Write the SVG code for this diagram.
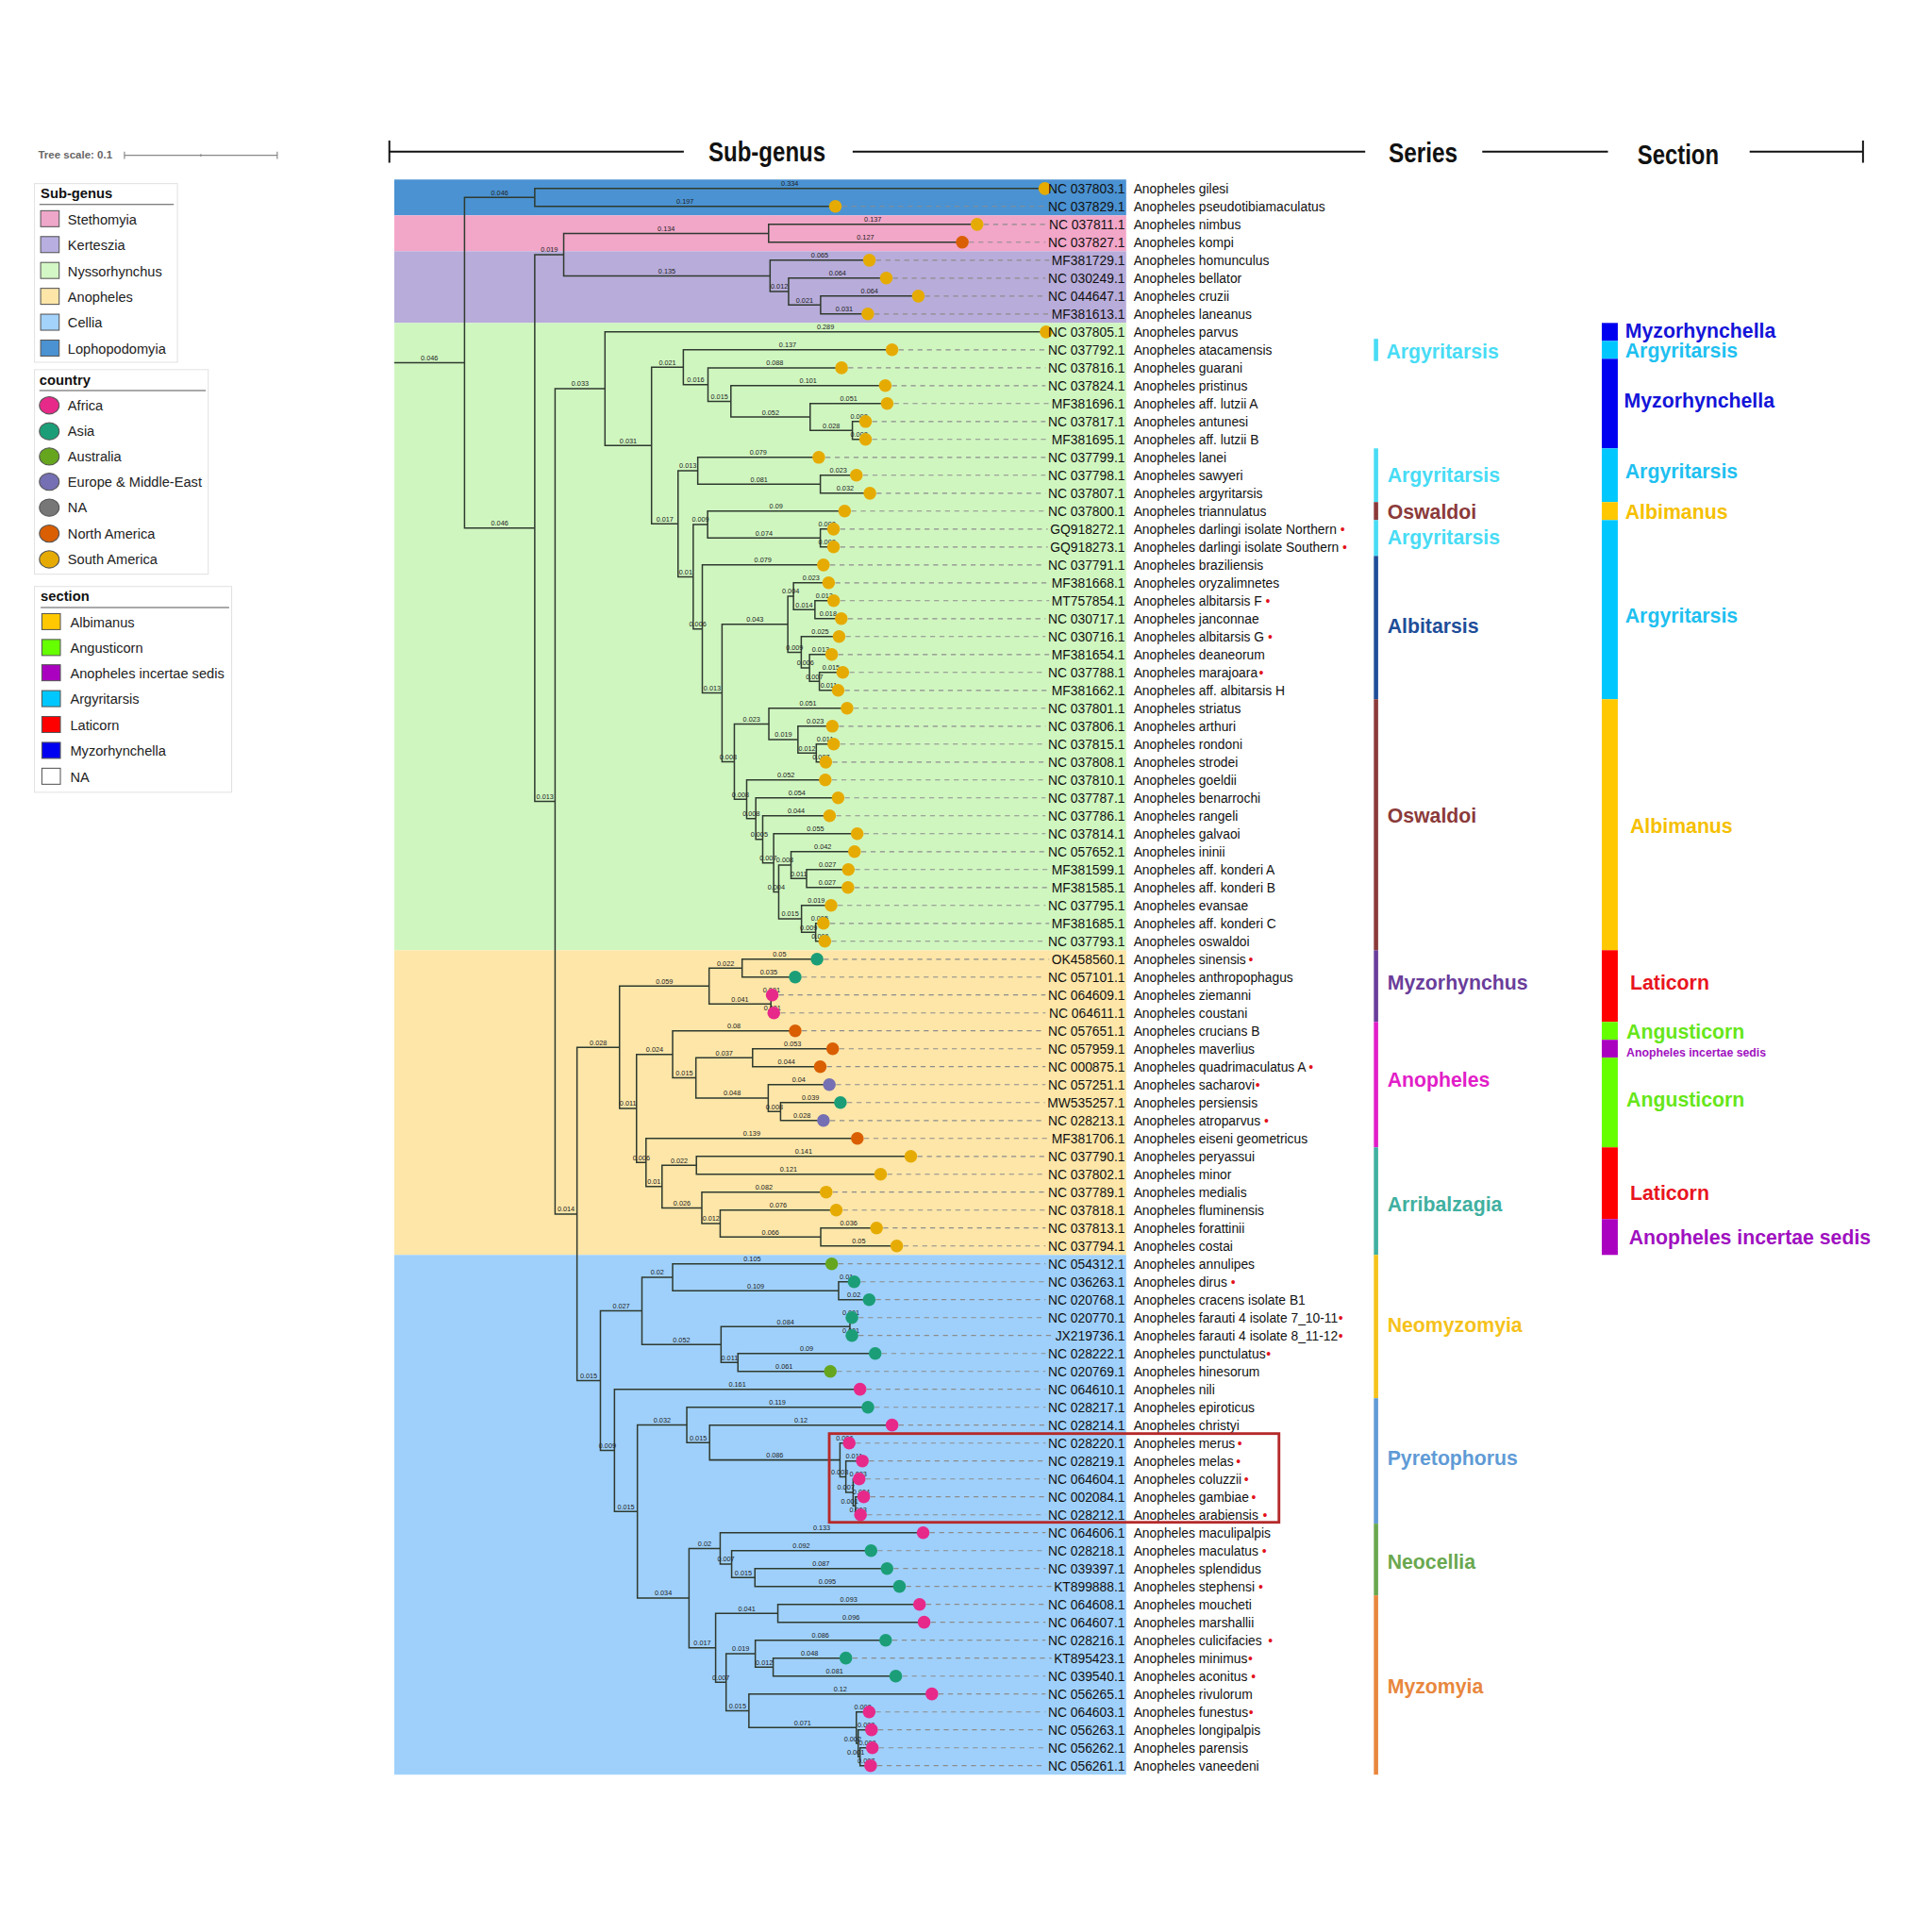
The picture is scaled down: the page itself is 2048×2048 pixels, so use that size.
<svg xmlns="http://www.w3.org/2000/svg" width="2048" height="2048" viewBox="0 0 2048 2048">
<style>
.br{fill:none;stroke:#2f3a2f;stroke-width:1.15}
.bl{font-family:"Liberation Sans Narrow","Liberation Sans",Arial,sans-serif;font-size:5.6px;fill:#222;text-anchor:middle}
.ld{fill:none;stroke:#8c8c8c;stroke-width:0.9;stroke-dasharray:4 3.6}
.acc{font-family:"Liberation Sans",Arial,sans-serif;font-size:10.6px;fill:#111;text-anchor:end}
.sp{font-family:"Liberation Sans",Arial,sans-serif;font-size:10.6px;fill:#111}
.rd{fill:#e3121b}
.c-sa{fill:#e6ab02}.c-na{fill:#d95f02}.c-af{fill:#e7298a}.c-as{fill:#1b9e77}.c-au{fill:#66a61e}.c-eu{fill:#7570b3}.c-nn{fill:#777}
.lg-box{fill:#fff;stroke:#e2e2e2;stroke-width:0.8}
.lg-t{font-family:"Liberation Sans",Arial,sans-serif;font-size:11.3px;font-weight:bold;fill:#111}
.lg{font-family:"Liberation Sans",Arial,sans-serif;font-size:11.2px;fill:#222}
.sw{stroke:#555;stroke-width:0.8}
.ser{font-family:"Liberation Sans",Arial,sans-serif;font-size:16.3px;font-weight:bold}
.hd{font-family:"Liberation Sans Narrow","Liberation Sans",Arial,sans-serif;font-size:22px;font-weight:bold;fill:#111;text-anchor:middle}
</style>
<rect width="2048" height="2048" fill="#fff"/>
<g transform="scale(1.306122)">

<!-- header rule -->
<g id="header" stroke="#111" stroke-width="1.5">
<path d="M316 123H555M692 123H1108M1203 123H1305M1420 123H1512M316 114V132M1512 114V132"/>
<g stroke="none">
<text class="hd" x="622.5" y="131" textLength="95" lengthAdjust="spacingAndGlyphs">Sub-genus</text>
<text class="hd" x="1155" y="132" textLength="56" lengthAdjust="spacingAndGlyphs">Series</text>
<text class="hd" x="1362" y="133" textLength="66" lengthAdjust="spacingAndGlyphs">Section</text>
</g>
</g>

<!-- tree scale -->
<g id="tree-scale">
<text x="31" y="129" font-family="Liberation Sans, Arial, sans-serif" font-size="8.8" font-weight="bold" fill="#666">Tree scale: 0.1</text>
<path d="M101 126H225M101 123V129M225 123V129M163 125V127" stroke="#888" stroke-width="0.9" fill="none"/>
</g>

<!-- legend: sub-genus -->
<g id="legend-subgenus">
<rect class="lg-box" x="28" y="149" width="116" height="145"/>
<text class="lg-t" x="33" y="161">Sub-genus</text>
<path d="M32 166H141" stroke="#555" stroke-width="0.8"/>
<rect class="sw" x="33" y="171" width="15" height="13" fill="#eea6c9"/><text class="lg" x="55" y="182">Stethomyia</text>
<rect class="sw" x="33" y="192" width="15" height="13" fill="#b8aee0"/><text class="lg" x="55" y="203">Kerteszia</text>
<rect class="sw" x="33" y="213" width="15" height="13" fill="#d3f7c5"/><text class="lg" x="55" y="224">Nyssorhynchus</text>
<rect class="sw" x="33" y="234" width="15" height="13" fill="#fde6a8"/><text class="lg" x="55" y="245">Anopheles</text>
<rect class="sw" x="33" y="255" width="15" height="13" fill="#a3d2fb"/><text class="lg" x="55" y="266">Cellia</text>
<rect class="sw" x="33" y="276" width="15" height="13" fill="#4a92d1"/><text class="lg" x="55" y="287">Lophopodomyia</text>
</g>

<!-- legend: country -->
<g id="legend-country">
<rect class="lg-box" x="28" y="300" width="141" height="166"/>
<text class="lg-t" x="32" y="312">country</text>
<path d="M32 317H167" stroke="#555" stroke-width="0.8"/>
<ellipse class="sw" cx="40" cy="329" rx="8" ry="7" fill="#e7298a"/><text class="lg" x="55" y="333">Africa</text>
<ellipse class="sw" cx="40" cy="350" rx="8" ry="7" fill="#1b9e77"/><text class="lg" x="55" y="354">Asia</text>
<ellipse class="sw" cx="40" cy="370.5" rx="8" ry="7" fill="#66a61e"/><text class="lg" x="55" y="374.5">Australia</text>
<ellipse class="sw" cx="40" cy="391" rx="8" ry="7" fill="#7570b3"/><text class="lg" x="55" y="395">Europe &amp; Middle-East</text>
<ellipse class="sw" cx="40" cy="412" rx="8" ry="7" fill="#777777"/><text class="lg" x="55" y="416">NA</text>
<ellipse class="sw" cx="40" cy="433" rx="8" ry="7" fill="#d95f02"/><text class="lg" x="55" y="437">North America</text>
<ellipse class="sw" cx="40" cy="454" rx="8" ry="7" fill="#e6ab02"/><text class="lg" x="55" y="458">South America</text>
</g>

<!-- legend: section -->
<g id="legend-section">
<rect class="lg-box" x="28" y="476" width="160" height="167"/>
<text class="lg-t" x="33" y="488">section</text>
<path d="M33 493H186" stroke="#555" stroke-width="0.8"/>
<rect class="sw" x="34" y="498" width="15" height="13" fill="#ffc800"/><text class="lg" x="57" y="509">Albimanus</text>
<rect class="sw" x="34" y="519" width="15" height="13" fill="#66ff00"/><text class="lg" x="57" y="530">Angusticorn</text>
<rect class="sw" x="34" y="539.5" width="15" height="13" fill="#aa00c0"/><text class="lg" x="57" y="550.5">Anopheles incertae sedis</text>
<rect class="sw" x="34" y="560.5" width="15" height="13" fill="#00c8ff"/><text class="lg" x="57" y="571.5">Argyritarsis</text>
<rect class="sw" x="34" y="581.5" width="15" height="13" fill="#ff0000"/><text class="lg" x="57" y="592.5">Laticorn</text>
<rect class="sw" x="34" y="602.5" width="15" height="13" fill="#0000f0"/><text class="lg" x="57" y="613.5">Myzorhynchella</text>
<rect class="sw" x="34" y="623.5" width="15" height="13" fill="#ffffff"/><text class="lg" x="57" y="634.5">NA</text>
</g>

<!-- sub-genus background bands -->
<g id="subgenus-bands">
<rect x="320" y="145.7" width="594" height="29.1" fill="#4a92d2"/>
<rect x="320" y="174.8" width="594" height="29.1" fill="#f2a6c8"/>
<rect x="320" y="203.9" width="594" height="58.2" fill="#b8acda"/>
<rect x="320" y="262.1" width="594" height="509.1" fill="#d0f6c0"/>
<rect x="320" y="771.2" width="594" height="247.3" fill="#fde6a8"/>
<rect x="320" y="1018.5" width="594" height="421.8" fill="#9fd0fb"/>
</g>

<!-- connectors: tree branches -->
<g id="branches" class="br">
<path d="M320 294.4H377"/>
<path d="M434 160.3H377V428.6H434"/>
<path d="M848 153H434V167.5H678"/>
<path d="M457.5 206.7H434V650.4H450.5"/>
<path d="M623.8 189.4H457.5V223.9H625"/>
<path d="M793 182.1H623.8V196.6H781"/>
<path d="M705.6 211.2H625V236.6H640"/>
<path d="M719.3 225.7H640V247.5H666"/>
<path d="M745.3 240.3H666V254.8H704.3"/>
<path d="M491 315.5H450.5V985.3H468.3"/>
<path d="M849 269.4H491V361.6H528.8"/>
<path d="M554.6 298.1H528.8V425.1H550.3"/>
<path d="M724 283.9H554.6V312.1H574.6"/>
<path d="M683 298.5H574.6V325.8H593.2"/>
<path d="M718.5 313H593.2V338.5H657.5"/>
<path d="M720 327.5H657.5V349.4H691.8"/>
<path d="M702.5 342.1H691.8V356.6H702.5"/>
<path d="M566.3 382.1H550.3V468.1H562.6"/>
<path d="M664.5 371.2H566.3V393H665.8"/>
<path d="M695 385.7H665.8V400.3H706"/>
<path d="M574.3 425.7H562.6V510.5H570"/>
<path d="M685.5 414.8H574.3V436.6H665.8"/>
<path d="M676.5 429.4H665.8V443.9H676.5"/>
<path d="M668.3 458.5H570V562.4H586"/>
<path d="M639.4 506.6H586V618.2H596"/>
<path d="M644 483.9H639.4V529.4H650.3"/>
<path d="M672.5 473H644V494.8H661.4"/>
<path d="M676.6 487.5H661.4V502.1H682.8"/>
<path d="M681 516.6H650.3V542.1H657"/>
<path d="M675 531.2H657V553H665"/>
<path d="M684 545.7H665V560.3H680.2"/>
<path d="M624 587.6H596V648.7H606"/>
<path d="M687.5 574.8H624V600.3H647.6"/>
<path d="M675.5 589.4H647.6V611.2H662.5"/>
<path d="M676.6 603.9H662.5V618.5H670.2"/>
<path d="M669.8 633H606V664.4H613.4"/>
<path d="M680.2 647.5H613.4V681.2H619"/>
<path d="M673.3 662.1H619V700.3H627.9"/>
<path d="M695.7 676.6H627.9V723.9H632"/>
<path d="M642 702.1H632V745.7H650.5"/>
<path d="M693.5 691.2H642V713H654.6"/>
<path d="M688.5 705.7H654.6V720.3H688.2"/>
<path d="M674.5 734.8H650.5V756.6H662"/>
<path d="M668.3 749.4H662V763.9H669.4"/>
<path d="M502.8 850H468.3V1120.5H487.3"/>
<path d="M575.5 800.3H502.8V899.6H516.6"/>
<path d="M602.3 785.8H575.5V814.8H625.7"/>
<path d="M663.1 778.5H602.3V793H645.4"/>
<path d="M626.7 807.5H625.7V822.1H628"/>
<path d="M545.9 855.7H516.6V943.5H524.3"/>
<path d="M645.4 836.6H545.9V874.8H564.8"/>
<path d="M610.8 858.5H564.8V891.2H623.5"/>
<path d="M675.8 851.2H610.8V865.7H665.7"/>
<path d="M673.1 880.3H623.5V902.1H633.5"/>
<path d="M682.1 894.8H633.5V909.4H668.3"/>
<path d="M695.8 923.9H524.3V963H537.3"/>
<path d="M565.2 945.8H537.3V980.3H569.6"/>
<path d="M739.2 938.5H565.2V953H714.7"/>
<path d="M670.5 967.5H569.6V993H584.5"/>
<path d="M678.7 982.1H584.5V1003.9H666.1"/>
<path d="M711.4 996.6H666.1V1011.2H727.8"/>
<path d="M521 1063.9H487.3V1177.1H498.7"/>
<path d="M545.9 1036.6H521V1091.2H585.2"/>
<path d="M675 1025.7H545.9V1047.6H680.6"/>
<path d="M693.2 1040.3H680.6V1054.8H705.4"/>
<path d="M689.8 1076.7H585.2V1105.8H598.9"/>
<path d="M691.4 1069.4H689.8V1083.9H691.4"/>
<path d="M710.3 1098.5H598.9V1113H673.9"/>
<path d="M698 1127.5H498.7V1226.7H517.3"/>
<path d="M557.4 1156.4H517.3V1297H559.2"/>
<path d="M704.4 1142.1H557.4V1170.8H575.9"/>
<path d="M724 1156.6H575.9V1184.9H681.7"/>
<path d="M689.2 1171.2H681.7V1198.5H686.5"/>
<path d="M699.9 1185.7H686.5V1211.2H692.4"/>
<path d="M697.3 1200.3H692.4V1222.1H694.3"/>
<path d="M701 1214.8H694.3V1229.4H698.4"/>
<path d="M584.5 1256.7H559.2V1337.3H580.8"/>
<path d="M749.2 1243.9H584.5V1269.4H593.8"/>
<path d="M706.9 1258.5H593.8V1280.3H612.7"/>
<path d="M719.9 1273H612.7V1287.5H730"/>
<path d="M631.3 1309.4H580.8V1365.3H589.3"/>
<path d="M746.3 1302.1H631.3V1316.6H750"/>
<path d="M613 1342.1H589.3V1388.5H607.8"/>
<path d="M718.8 1331.2H613V1353H627.5"/>
<path d="M686.5 1345.7H627.5V1360.3H727"/>
<path d="M756.3 1374.8H607.8V1402.1H695"/>
<path d="M705.4 1389.4H695V1414.8H696.5"/>
<path d="M707.3 1403.9H696.5V1425.8H698"/>
<path d="M708 1418.5H698V1433H706.6"/>
</g>

<!-- branch length labels -->
<g id="branch-lengths" class="bl">
<text x="348.5" y="292.4">0.046</text><text x="405.5" y="158.3">0.046</text><text x="405.5" y="426.6">0.046</text>
<text x="641" y="151">0.334</text><text x="556" y="165.5">0.197</text>
<text x="445.8" y="204.7">0.019</text><text x="442.3" y="648.4">0.013</text>
<text x="540.7" y="187.4">0.134</text><text x="541.3" y="221.9">0.135</text>
<text x="708.4" y="180.1">0.137</text><text x="702.4" y="194.6">0.127</text>
<text x="665.3" y="209.2">0.065</text><text x="632.5" y="234.6">0.012</text>
<text x="679.7" y="223.7">0.064</text><text x="653" y="245.5">0.021</text>
<text x="705.7" y="238.3">0.064</text><text x="685.2" y="252.8">0.031</text>
<text x="470.8" y="313.5">0.033</text><text x="459.4" y="983.3">0.014</text>
<text x="670" y="267.4">0.289</text><text x="509.9" y="359.6">0.031</text>
<text x="541.7" y="296.1">0.021</text><text x="539.6" y="423.1">0.017</text>
<text x="639.3" y="281.9">0.137</text><text x="564.6" y="310.1">0.016</text>
<text x="628.8" y="296.5">0.088</text><text x="583.9" y="323.8">0.015</text>
<text x="655.9" y="311">0.101</text><text x="625.4" y="336.5">0.052</text>
<text x="688.8" y="325.5">0.051</text><text x="674.7" y="347.4">0.028</text>
<text x="697.2" y="340.1">0.008</text><text x="697.2" y="354.6">0.008</text>
<text x="558.3" y="380.1">0.013</text><text x="556.5" y="466.1">0.01</text>
<text x="615.4" y="369.2">0.079</text><text x="616.1" y="391">0.081</text>
<text x="680.4" y="383.7">0.023</text><text x="685.9" y="398.3">0.032</text>
<text x="568.5" y="423.7">0.009</text><text x="566.3" y="508.5">0.006</text>
<text x="629.9" y="412.8">0.09</text><text x="620.1" y="434.6">0.074</text>
<text x="671.2" y="427.4">0.008</text><text x="671.2" y="441.9">0.008</text>
<text x="619.2" y="456.5">0.079</text><text x="578" y="560.4">0.013</text>
<text x="612.7" y="504.6">0.043</text><text x="591" y="616.2">0.008</text>
<text x="641.7" y="481.9">0.004</text><text x="644.9" y="527.4">0.009</text>
<text x="658.3" y="471">0.023</text><text x="652.7" y="492.8">0.014</text>
<text x="669" y="485.5">0.012</text><text x="672.1" y="500.1">0.018</text>
<text x="665.7" y="514.6">0.025</text><text x="653.7" y="540.1">0.006</text>
<text x="666" y="529.2">0.013</text><text x="661" y="551">0.007</text>
<text x="674.5" y="543.7">0.015</text><text x="672.6" y="558.3">0.011</text>
<text x="610" y="585.6">0.023</text><text x="601" y="646.7">0.008</text>
<text x="655.8" y="572.8">0.051</text><text x="635.8" y="598.3">0.019</text>
<text x="661.6" y="587.4">0.023</text><text x="655" y="609.2">0.012</text>
<text x="669.6" y="601.9">0.011</text><text x="666.4" y="616.5">0.007</text>
<text x="637.9" y="631">0.052</text><text x="609.7" y="662.4">0.008</text>
<text x="646.8" y="645.5">0.054</text><text x="616.2" y="679.2">0.005</text>
<text x="646.2" y="660.1">0.044</text><text x="623.5" y="698.3">0.007</text>
<text x="661.8" y="674.6">0.055</text><text x="630" y="721.9">0.004</text>
<text x="637" y="700.1">0.008</text><text x="641.3" y="743.7">0.015</text>
<text x="667.8" y="689.2">0.042</text><text x="648.3" y="711">0.011</text>
<text x="671.6" y="703.7">0.027</text><text x="671.4" y="718.3">0.027</text>
<text x="662.5" y="732.8">0.019</text><text x="656.3" y="754.6">0.009</text>
<text x="665.2" y="747.4">0.005</text><text x="665.7" y="761.9">0.006</text>
<text x="485.6" y="848">0.028</text><text x="477.8" y="1118.5">0.015</text>
<text x="539.2" y="798.3">0.059</text><text x="509.7" y="897.6">0.011</text>
<text x="588.9" y="783.8">0.022</text><text x="600.6" y="812.8">0.041</text>
<text x="632.7" y="776.5">0.05</text><text x="623.9" y="791">0.035</text>
<text x="626.2" y="805.5">0.001</text><text x="626.9" y="820.1">0.001</text>
<text x="531.3" y="853.7">0.024</text><text x="520.5" y="941.5">0.006</text>
<text x="595.7" y="834.6">0.08</text><text x="555.4" y="872.8">0.015</text>
<text x="587.8" y="856.5">0.037</text><text x="594.2" y="889.2">0.048</text>
<text x="643.3" y="849.2">0.053</text><text x="638.3" y="863.7">0.044</text>
<text x="648.3" y="878.3">0.04</text><text x="628.5" y="900.1">0.008</text>
<text x="657.8" y="892.8">0.039</text><text x="650.9" y="907.4">0.028</text>
<text x="610.1" y="921.9">0.139</text><text x="530.8" y="961">0.01</text>
<text x="551.3" y="943.8">0.022</text><text x="553.5" y="978.3">0.026</text>
<text x="652.2" y="936.5">0.141</text><text x="640" y="951">0.121</text>
<text x="620.1" y="965.5">0.082</text><text x="577.1" y="991">0.012</text>
<text x="631.6" y="980.1">0.076</text><text x="625.3" y="1001.9">0.066</text>
<text x="688.8" y="994.6">0.036</text><text x="697" y="1009.2">0.05</text>
<text x="504.2" y="1061.9">0.027</text><text x="493" y="1175.1">0.009</text>
<text x="533.5" y="1034.6">0.02</text><text x="553.1" y="1089.2">0.052</text>
<text x="610.5" y="1023.7">0.105</text><text x="613.3" y="1045.6">0.109</text>
<text x="686.9" y="1038.3">0.01</text><text x="693" y="1052.8">0.02</text>
<text x="637.5" y="1074.7">0.084</text><text x="592.1" y="1103.8">0.011</text>
<text x="690.6" y="1067.4">0.001</text><text x="690.6" y="1081.9">0.001</text>
<text x="654.6" y="1096.5">0.09</text><text x="636.4" y="1111">0.061</text>
<text x="598.4" y="1125.5">0.161</text><text x="508" y="1224.7">0.015</text>
<text x="537.4" y="1154.4">0.032</text><text x="538.3" y="1295">0.034</text>
<text x="630.9" y="1140.1">0.119</text><text x="566.7" y="1168.8">0.015</text>
<text x="650" y="1154.6">0.12</text><text x="628.8" y="1182.9">0.086</text>
<text x="685.5" y="1169.2">0.006</text><text x="681.5" y="1196.5">0.003</text>
<text x="693.2" y="1183.7">0.011</text><text x="686.5" y="1209.2">0.007</text>
<text x="696.5" y="1198.3">0.003</text><text x="689.5" y="1220.6">0.001</text>
<text x="699" y="1212.8">0.004</text><text x="696.4" y="1227.4">0.003</text>
<text x="571.9" y="1254.7">0.02</text><text x="570" y="1335.3">0.017</text>
<text x="666.9" y="1241.9">0.133</text><text x="589.2" y="1267.4">0.007</text>
<text x="650.4" y="1256.5">0.092</text><text x="603.3" y="1278.3">0.015</text>
<text x="666.3" y="1271">0.087</text><text x="671.4" y="1285.5">0.095</text>
<text x="606.1" y="1307.4">0.041</text><text x="585.1" y="1363.3">0.007</text>
<text x="688.8" y="1300.1">0.093</text><text x="690.7" y="1314.6">0.096</text>
<text x="601.2" y="1340.1">0.019</text><text x="598.6" y="1386.5">0.015</text>
<text x="665.9" y="1329.2">0.086</text><text x="620.3" y="1351">0.012</text>
<text x="657" y="1343.7">0.048</text><text x="677.3" y="1358.3">0.081</text>
<text x="682" y="1372.8">0.12</text><text x="651.4" y="1400.1">0.071</text>
<text x="700.2" y="1387.4">0.008</text><text x="692" y="1413">0.002</text>
<text x="703" y="1401.9">0.008</text><text x="694.5" y="1424">0.001</text>
<text x="704" y="1416.5">0.008</text><text x="703" y="1431">0.007</text>
</g>

<!-- leaves: tip marker, leader, accession and species -->
<g id="leaves">
<g id="tip01" transform="translate(0 153)"><circle class="c-sa" cx="848" r="5.2"/><text class="acc" x="913" y="3.8">NC 037803.1</text><text class="sp" x="920" y="3.8">Anopheles gilesi</text></g>
<g id="tip02" transform="translate(0 167.5)"><path class="ld" d="M683.5 0H848.5"/><circle class="c-sa" cx="678" r="5.2"/><text class="acc" x="913" y="3.8">NC 037829.1</text><text class="sp" x="920" y="3.8">Anopheles pseudotibiamaculatus</text></g>
<g id="tip03" transform="translate(0 182.1)"><path class="ld" d="M798.5 0H848.5"/><circle class="c-sa" cx="793" r="5.2"/><text class="acc" x="913" y="3.8">NC 037811.1</text><text class="sp" x="920" y="3.8">Anopheles nimbus</text></g>
<g id="tip04" transform="translate(0 196.6)"><path class="ld" d="M786.5 0H848.5"/><circle class="c-na" cx="781" r="5.2"/><text class="acc" x="913" y="3.8">NC 037827.1</text><text class="sp" x="920" y="3.8">Anopheles kompi</text></g>
<g id="tip05" transform="translate(0 211.2)"><path class="ld" d="M711.1 0H851.5"/><circle class="c-sa" cx="705.6" r="5.2"/><text class="acc" x="913" y="3.8">MF381729.1</text><text class="sp" x="920" y="3.8">Anopheles homunculus</text></g>
<g id="tip06" transform="translate(0 225.7)"><path class="ld" d="M724.8 0H848.5"/><circle class="c-sa" cx="719.3" r="5.2"/><text class="acc" x="913" y="3.8">NC 030249.1</text><text class="sp" x="920" y="3.8">Anopheles bellator</text></g>
<g id="tip07" transform="translate(0 240.3)"><path class="ld" d="M750.8 0H848.5"/><circle class="c-sa" cx="745.3" r="5.2"/><text class="acc" x="913" y="3.8">NC 044647.1</text><text class="sp" x="920" y="3.8">Anopheles cruzii</text></g>
<g id="tip08" transform="translate(0 254.8)"><path class="ld" d="M709.8 0H851.5"/><circle class="c-sa" cx="704.3" r="5.2"/><text class="acc" x="913" y="3.8">MF381613.1</text><text class="sp" x="920" y="3.8">Anopheles laneanus</text></g>
<g id="tip09" transform="translate(0 269.4)"><circle class="c-sa" cx="849" r="5.2"/><text class="acc" x="913" y="3.8">NC 037805.1</text><text class="sp" x="920" y="3.8">Anopheles parvus</text></g>
<g id="tip10" transform="translate(0 283.9)"><path class="ld" d="M729.5 0H848.5"/><circle class="c-sa" cx="724" r="5.2"/><text class="acc" x="913" y="3.8">NC 037792.1</text><text class="sp" x="920" y="3.8">Anopheles atacamensis</text></g>
<g id="tip11" transform="translate(0 298.5)"><path class="ld" d="M688.5 0H848.5"/><circle class="c-sa" cx="683" r="5.2"/><text class="acc" x="913" y="3.8">NC 037816.1</text><text class="sp" x="920" y="3.8">Anopheles guarani</text></g>
<g id="tip12" transform="translate(0 313)"><path class="ld" d="M724 0H848.5"/><circle class="c-sa" cx="718.5" r="5.2"/><text class="acc" x="913" y="3.8">NC 037824.1</text><text class="sp" x="920" y="3.8">Anopheles pristinus</text></g>
<g id="tip13" transform="translate(0 327.5)"><path class="ld" d="M725.5 0H851.5"/><circle class="c-sa" cx="720" r="5.2"/><text class="acc" x="913" y="3.8">MF381696.1</text><text class="sp" x="920" y="3.8">Anopheles aff. lutzii A</text></g>
<g id="tip14" transform="translate(0 342.1)"><path class="ld" d="M708 0H848.5"/><circle class="c-sa" cx="702.5" r="5.2"/><text class="acc" x="913" y="3.8">NC 037817.1</text><text class="sp" x="920" y="3.8">Anopheles antunesi</text></g>
<g id="tip15" transform="translate(0 356.6)"><path class="ld" d="M708 0H851.5"/><circle class="c-sa" cx="702.5" r="5.2"/><text class="acc" x="913" y="3.8">MF381695.1</text><text class="sp" x="920" y="3.8">Anopheles aff. lutzii B</text></g>
<g id="tip16" transform="translate(0 371.2)"><path class="ld" d="M670 0H848.5"/><circle class="c-sa" cx="664.5" r="5.2"/><text class="acc" x="913" y="3.8">NC 037799.1</text><text class="sp" x="920" y="3.8">Anopheles lanei</text></g>
<g id="tip17" transform="translate(0 385.7)"><path class="ld" d="M700.5 0H848.5"/><circle class="c-sa" cx="695" r="5.2"/><text class="acc" x="913" y="3.8">NC 037798.1</text><text class="sp" x="920" y="3.8">Anopheles sawyeri</text></g>
<g id="tip18" transform="translate(0 400.3)"><path class="ld" d="M711.5 0H848.5"/><circle class="c-sa" cx="706" r="5.2"/><text class="acc" x="913" y="3.8">NC 037807.1</text><text class="sp" x="920" y="3.8">Anopheles argyritarsis</text></g>
<g id="tip19" transform="translate(0 414.8)"><path class="ld" d="M691 0H848.5"/><circle class="c-sa" cx="685.5" r="5.2"/><text class="acc" x="913" y="3.8">NC 037800.1</text><text class="sp" x="920" y="3.8">Anopheles triannulatus</text></g>
<g id="tip20" transform="translate(0 429.4)"><path class="ld" d="M682 0H850.3"/><circle class="c-sa" cx="676.5" r="5.2"/><text class="acc" x="913" y="3.8">GQ918272.1</text><text class="sp" x="920" y="3.8">Anopheles darlingi isolate Northern<tspan class="rd" dx="3">•</tspan></text></g>
<g id="tip21" transform="translate(0 443.9)"><path class="ld" d="M682 0H850.3"/><circle class="c-sa" cx="676.5" r="5.2"/><text class="acc" x="913" y="3.8">GQ918273.1</text><text class="sp" x="920" y="3.8">Anopheles darlingi isolate Southern<tspan class="rd" dx="3">•</tspan></text></g>
<g id="tip22" transform="translate(0 458.5)"><path class="ld" d="M673.8 0H848.5"/><circle class="c-sa" cx="668.3" r="5.2"/><text class="acc" x="913" y="3.8">NC 037791.1</text><text class="sp" x="920" y="3.8">Anopheles braziliensis</text></g>
<g id="tip23" transform="translate(0 473)"><path class="ld" d="M678 0H851.5"/><circle class="c-sa" cx="672.5" r="5.2"/><text class="acc" x="913" y="3.8">MF381668.1</text><text class="sp" x="920" y="3.8">Anopheles oryzalimnetes</text></g>
<g id="tip24" transform="translate(0 487.5)"><path class="ld" d="M682.1 0H851.5"/><circle class="c-sa" cx="676.6" r="5.2"/><text class="acc" x="913" y="3.8">MT757854.1</text><text class="sp" x="920" y="3.8">Anopheles albitarsis F<tspan class="rd" dx="3">•</tspan></text></g>
<g id="tip25" transform="translate(0 502.1)"><path class="ld" d="M688.3 0H848.5"/><circle class="c-sa" cx="682.8" r="5.2"/><text class="acc" x="913" y="3.8">NC 030717.1</text><text class="sp" x="920" y="3.8">Anopheles janconnae</text></g>
<g id="tip26" transform="translate(0 516.6)"><path class="ld" d="M686.5 0H848.5"/><circle class="c-sa" cx="681" r="5.2"/><text class="acc" x="913" y="3.8">NC 030716.1</text><text class="sp" x="920" y="3.8">Anopheles albitarsis G<tspan class="rd" dx="3">•</tspan></text></g>
<g id="tip27" transform="translate(0 531.2)"><path class="ld" d="M680.5 0H851.5"/><circle class="c-sa" cx="675" r="5.2"/><text class="acc" x="913" y="3.8">MF381654.1</text><text class="sp" x="920" y="3.8">Anopheles deaneorum</text></g>
<g id="tip28" transform="translate(0 545.7)"><path class="ld" d="M689.5 0H848.5"/><circle class="c-sa" cx="684" r="5.2"/><text class="acc" x="913" y="3.8">NC 037788.1</text><text class="sp" x="920" y="3.8">Anopheles marajoara<tspan class="rd" dx="1">•</tspan></text></g>
<g id="tip29" transform="translate(0 560.3)"><path class="ld" d="M685.7 0H851.5"/><circle class="c-sa" cx="680.2" r="5.2"/><text class="acc" x="913" y="3.8">MF381662.1</text><text class="sp" x="920" y="3.8">Anopheles aff. albitarsis H</text></g>
<g id="tip30" transform="translate(0 574.8)"><path class="ld" d="M693 0H848.5"/><circle class="c-sa" cx="687.5" r="5.2"/><text class="acc" x="913" y="3.8">NC 037801.1</text><text class="sp" x="920" y="3.8">Anopheles striatus</text></g>
<g id="tip31" transform="translate(0 589.4)"><path class="ld" d="M681 0H848.5"/><circle class="c-sa" cx="675.5" r="5.2"/><text class="acc" x="913" y="3.8">NC 037806.1</text><text class="sp" x="920" y="3.8">Anopheles arthuri</text></g>
<g id="tip32" transform="translate(0 603.9)"><path class="ld" d="M682.1 0H848.5"/><circle class="c-sa" cx="676.6" r="5.2"/><text class="acc" x="913" y="3.8">NC 037815.1</text><text class="sp" x="920" y="3.8">Anopheles rondoni</text></g>
<g id="tip33" transform="translate(0 618.5)"><path class="ld" d="M675.7 0H848.5"/><circle class="c-sa" cx="670.2" r="5.2"/><text class="acc" x="913" y="3.8">NC 037808.1</text><text class="sp" x="920" y="3.8">Anopheles strodei</text></g>
<g id="tip34" transform="translate(0 633)"><path class="ld" d="M675.3 0H848.5"/><circle class="c-sa" cx="669.8" r="5.2"/><text class="acc" x="913" y="3.8">NC 037810.1</text><text class="sp" x="920" y="3.8">Anopheles goeldii</text></g>
<g id="tip35" transform="translate(0 647.5)"><path class="ld" d="M685.7 0H848.5"/><circle class="c-sa" cx="680.2" r="5.2"/><text class="acc" x="913" y="3.8">NC 037787.1</text><text class="sp" x="920" y="3.8">Anopheles benarrochi</text></g>
<g id="tip36" transform="translate(0 662.1)"><path class="ld" d="M678.8 0H848.5"/><circle class="c-sa" cx="673.3" r="5.2"/><text class="acc" x="913" y="3.8">NC 037786.1</text><text class="sp" x="920" y="3.8">Anopheles rangeli</text></g>
<g id="tip37" transform="translate(0 676.6)"><path class="ld" d="M701.2 0H848.5"/><circle class="c-sa" cx="695.7" r="5.2"/><text class="acc" x="913" y="3.8">NC 037814.1</text><text class="sp" x="920" y="3.8">Anopheles galvaoi</text></g>
<g id="tip38" transform="translate(0 691.2)"><path class="ld" d="M699 0H848.5"/><circle class="c-sa" cx="693.5" r="5.2"/><text class="acc" x="913" y="3.8">NC 057652.1</text><text class="sp" x="920" y="3.8">Anopheles ininii</text></g>
<g id="tip39" transform="translate(0 705.7)"><path class="ld" d="M694 0H851.5"/><circle class="c-sa" cx="688.5" r="5.2"/><text class="acc" x="913" y="3.8">MF381599.1</text><text class="sp" x="920" y="3.8">Anopheles aff. konderi A</text></g>
<g id="tip40" transform="translate(0 720.3)"><path class="ld" d="M693.7 0H851.5"/><circle class="c-sa" cx="688.2" r="5.2"/><text class="acc" x="913" y="3.8">MF381585.1</text><text class="sp" x="920" y="3.8">Anopheles aff. konderi B</text></g>
<g id="tip41" transform="translate(0 734.8)"><path class="ld" d="M680 0H848.5"/><circle class="c-sa" cx="674.5" r="5.2"/><text class="acc" x="913" y="3.8">NC 037795.1</text><text class="sp" x="920" y="3.8">Anopheles evansae</text></g>
<g id="tip42" transform="translate(0 749.4)"><path class="ld" d="M673.8 0H851.5"/><circle class="c-sa" cx="668.3" r="5.2"/><text class="acc" x="913" y="3.8">MF381685.1</text><text class="sp" x="920" y="3.8">Anopheles aff. konderi C</text></g>
<g id="tip43" transform="translate(0 763.9)"><path class="ld" d="M674.9 0H848.5"/><circle class="c-sa" cx="669.4" r="5.2"/><text class="acc" x="913" y="3.8">NC 037793.1</text><text class="sp" x="920" y="3.8">Anopheles oswaldoi</text></g>
<g id="tip44" transform="translate(0 778.5)"><path class="ld" d="M668.6 0H851.5"/><circle class="c-as" cx="663.1" r="5.2"/><text class="acc" x="913" y="3.8">OK458560.1</text><text class="sp" x="920" y="3.8">Anopheles sinensis<tspan class="rd" dx="2">•</tspan></text></g>
<g id="tip45" transform="translate(0 793)"><path class="ld" d="M650.9 0H848.5"/><circle class="c-as" cx="645.4" r="5.2"/><text class="acc" x="913" y="3.8">NC 057101.1</text><text class="sp" x="920" y="3.8">Anopheles anthropophagus</text></g>
<g id="tip46" transform="translate(0 807.5)"><path class="ld" d="M632.2 0H848.5"/><circle class="c-af" cx="626.7" r="5.2"/><text class="acc" x="913" y="3.8">NC 064609.1</text><text class="sp" x="920" y="3.8">Anopheles ziemanni</text></g>
<g id="tip47" transform="translate(0 822.1)"><path class="ld" d="M633.5 0H848.5"/><circle class="c-af" cx="628" r="5.2"/><text class="acc" x="913" y="3.8">NC 064611.1</text><text class="sp" x="920" y="3.8">Anopheles coustani</text></g>
<g id="tip48" transform="translate(0 836.6)"><path class="ld" d="M650.9 0H848.5"/><circle class="c-na" cx="645.4" r="5.2"/><text class="acc" x="913" y="3.8">NC 057651.1</text><text class="sp" x="920" y="3.8">Anopheles crucians B</text></g>
<g id="tip49" transform="translate(0 851.2)"><path class="ld" d="M681.3 0H848.5"/><circle class="c-na" cx="675.8" r="5.2"/><text class="acc" x="913" y="3.8">NC 057959.1</text><text class="sp" x="920" y="3.8">Anopheles maverlius</text></g>
<g id="tip50" transform="translate(0 865.7)"><path class="ld" d="M671.2 0H848.5"/><circle class="c-na" cx="665.7" r="5.2"/><text class="acc" x="913" y="3.8">NC 000875.1</text><text class="sp" x="920" y="3.8">Anopheles quadrimaculatus A<tspan class="rd" dx="2">•</tspan></text></g>
<g id="tip51" transform="translate(0 880.3)"><path class="ld" d="M678.6 0H848.5"/><circle class="c-eu" cx="673.1" r="5.2"/><text class="acc" x="913" y="3.8">NC 057251.1</text><text class="sp" x="920" y="3.8">Anopheles sacharovi<tspan class="rd" dx="0.5">•</tspan></text></g>
<g id="tip52" transform="translate(0 894.8)"><path class="ld" d="M687.6 0H848"/><circle class="c-as" cx="682.1" r="5.2"/><text class="acc" x="913" y="3.8">MW535257.1</text><text class="sp" x="920" y="3.8">Anopheles persiensis</text></g>
<g id="tip53" transform="translate(0 909.4)"><path class="ld" d="M673.8 0H848.5"/><circle class="c-eu" cx="668.3" r="5.2"/><text class="acc" x="913" y="3.8">NC 028213.1</text><text class="sp" x="920" y="3.8">Anopheles atroparvus<tspan class="rd" dx="3">•</tspan></text></g>
<g id="tip54" transform="translate(0 923.9)"><path class="ld" d="M701.3 0H851.5"/><circle class="c-na" cx="695.8" r="5.2"/><text class="acc" x="913" y="3.8">MF381706.1</text><text class="sp" x="920" y="3.8">Anopheles eiseni geometricus</text></g>
<g id="tip55" transform="translate(0 938.5)"><path class="ld" d="M744.7 0H848.5"/><circle class="c-sa" cx="739.2" r="5.2"/><text class="acc" x="913" y="3.8">NC 037790.1</text><text class="sp" x="920" y="3.8">Anopheles peryassui</text></g>
<g id="tip56" transform="translate(0 953)"><path class="ld" d="M720.2 0H848.5"/><circle class="c-sa" cx="714.7" r="5.2"/><text class="acc" x="913" y="3.8">NC 037802.1</text><text class="sp" x="920" y="3.8">Anopheles minor</text></g>
<g id="tip57" transform="translate(0 967.5)"><path class="ld" d="M676 0H848.5"/><circle class="c-sa" cx="670.5" r="5.2"/><text class="acc" x="913" y="3.8">NC 037789.1</text><text class="sp" x="920" y="3.8">Anopheles medialis</text></g>
<g id="tip58" transform="translate(0 982.1)"><path class="ld" d="M684.2 0H848.5"/><circle class="c-sa" cx="678.7" r="5.2"/><text class="acc" x="913" y="3.8">NC 037818.1</text><text class="sp" x="920" y="3.8">Anopheles fluminensis</text></g>
<g id="tip59" transform="translate(0 996.6)"><path class="ld" d="M716.9 0H848.5"/><circle class="c-sa" cx="711.4" r="5.2"/><text class="acc" x="913" y="3.8">NC 037813.1</text><text class="sp" x="920" y="3.8">Anopheles forattinii</text></g>
<g id="tip60" transform="translate(0 1011.2)"><path class="ld" d="M733.3 0H848.5"/><circle class="c-sa" cx="727.8" r="5.2"/><text class="acc" x="913" y="3.8">NC 037794.1</text><text class="sp" x="920" y="3.8">Anopheles costai</text></g>
<g id="tip61" transform="translate(0 1025.7)"><path class="ld" d="M680.5 0H848.5"/><circle class="c-au" cx="675" r="5.2"/><text class="acc" x="913" y="3.8">NC 054312.1</text><text class="sp" x="920" y="3.8">Anopheles annulipes</text></g>
<g id="tip62" transform="translate(0 1040.3)"><path class="ld" d="M698.7 0H848.5"/><circle class="c-as" cx="693.2" r="5.2"/><text class="acc" x="913" y="3.8">NC 036263.1</text><text class="sp" x="920" y="3.8">Anopheles dirus<tspan class="rd" dx="3">•</tspan></text></g>
<g id="tip63" transform="translate(0 1054.8)"><path class="ld" d="M710.9 0H848.5"/><circle class="c-as" cx="705.4" r="5.2"/><text class="acc" x="913" y="3.8">NC 020768.1</text><text class="sp" x="920" y="3.8">Anopheles cracens isolate B1</text></g>
<g id="tip64" transform="translate(0 1069.4)"><path class="ld" d="M696.9 0H848.5"/><circle class="c-as" cx="691.4" r="5.2"/><text class="acc" x="913" y="3.8">NC 020770.1</text><text class="sp" x="920" y="3.8">Anopheles farauti 4 isolate 7_10-11<tspan class="rd" dx="0.5">•</tspan></text></g>
<g id="tip65" transform="translate(0 1083.9)"><path class="ld" d="M696.9 0H854.4"/><circle class="c-as" cx="691.4" r="5.2"/><text class="acc" x="913" y="3.8">JX219736.1</text><text class="sp" x="920" y="3.8">Anopheles farauti 4 isolate 8_11-12<tspan class="rd" dx="0.5">•</tspan></text></g>
<g id="tip66" transform="translate(0 1098.5)"><path class="ld" d="M715.8 0H848.5"/><circle class="c-as" cx="710.3" r="5.2"/><text class="acc" x="913" y="3.8">NC 028222.1</text><text class="sp" x="920" y="3.8">Anopheles punctulatus<tspan class="rd" dx="0.5">•</tspan></text></g>
<g id="tip67" transform="translate(0 1113)"><path class="ld" d="M679.4 0H848.5"/><circle class="c-au" cx="673.9" r="5.2"/><text class="acc" x="913" y="3.8">NC 020769.1</text><text class="sp" x="920" y="3.8">Anopheles hinesorum</text></g>
<g id="tip68" transform="translate(0 1127.5)"><path class="ld" d="M703.5 0H848.5"/><circle class="c-af" cx="698" r="5.2"/><text class="acc" x="913" y="3.8">NC 064610.1</text><text class="sp" x="920" y="3.8">Anopheles nili</text></g>
<g id="tip69" transform="translate(0 1142.1)"><path class="ld" d="M709.9 0H848.5"/><circle class="c-as" cx="704.4" r="5.2"/><text class="acc" x="913" y="3.8">NC 028217.1</text><text class="sp" x="920" y="3.8">Anopheles epiroticus</text></g>
<g id="tip70" transform="translate(0 1156.6)"><path class="ld" d="M729.5 0H848.5"/><circle class="c-af" cx="724" r="5.2"/><text class="acc" x="913" y="3.8">NC 028214.1</text><text class="sp" x="920" y="3.8">Anopheles christyi</text></g>
<g id="tip71" transform="translate(0 1171.2)"><path class="ld" d="M694.7 0H848.5"/><circle class="c-af" cx="689.2" r="5.2"/><text class="acc" x="913" y="3.8">NC 028220.1</text><text class="sp" x="920" y="3.8">Anopheles merus<tspan class="rd" dx="2">•</tspan></text></g>
<g id="tip72" transform="translate(0 1185.7)"><path class="ld" d="M705.4 0H848.5"/><circle class="c-af" cx="699.9" r="5.2"/><text class="acc" x="913" y="3.8">NC 028219.1</text><text class="sp" x="920" y="3.8">Anopheles melas<tspan class="rd" dx="2">•</tspan></text></g>
<g id="tip73" transform="translate(0 1200.3)"><path class="ld" d="M702.8 0H848.5"/><circle class="c-af" cx="697.3" r="5.2"/><text class="acc" x="913" y="3.8">NC 064604.1</text><text class="sp" x="920" y="3.8">Anopheles coluzzii<tspan class="rd" dx="2">•</tspan></text></g>
<g id="tip74" transform="translate(0 1214.8)"><path class="ld" d="M706.5 0H848.5"/><circle class="c-af" cx="701" r="5.2"/><text class="acc" x="913" y="3.8">NC 002084.1</text><text class="sp" x="920" y="3.8">Anopheles gambiae<tspan class="rd" dx="2">•</tspan></text></g>
<g id="tip75" transform="translate(0 1229.4)"><path class="ld" d="M703.9 0H848.5"/><circle class="c-af" cx="698.4" r="5.2"/><text class="acc" x="913" y="3.8">NC 028212.1</text><text class="sp" x="920" y="3.8">Anopheles arabiensis<tspan class="rd" dx="3.5">•</tspan></text></g>
<g id="tip76" transform="translate(0 1243.9)"><path class="ld" d="M754.7 0H848.5"/><circle class="c-af" cx="749.2" r="5.2"/><text class="acc" x="913" y="3.8">NC 064606.1</text><text class="sp" x="920" y="3.8">Anopheles maculipalpis</text></g>
<g id="tip77" transform="translate(0 1258.5)"><path class="ld" d="M712.4 0H848.5"/><circle class="c-as" cx="706.9" r="5.2"/><text class="acc" x="913" y="3.8">NC 028218.1</text><text class="sp" x="920" y="3.8">Anopheles maculatus<tspan class="rd" dx="3">•</tspan></text></g>
<g id="tip78" transform="translate(0 1273)"><path class="ld" d="M725.4 0H848.5"/><circle class="c-as" cx="719.9" r="5.2"/><text class="acc" x="913" y="3.8">NC 039397.1</text><text class="sp" x="920" y="3.8">Anopheles splendidus</text></g>
<g id="tip79" transform="translate(0 1287.5)"><path class="ld" d="M735.5 0H853.3"/><circle class="c-as" cx="730" r="5.2"/><text class="acc" x="913" y="3.8">KT899888.1</text><text class="sp" x="920" y="3.8">Anopheles stephensi<tspan class="rd" dx="3">•</tspan></text></g>
<g id="tip80" transform="translate(0 1302.1)"><path class="ld" d="M751.8 0H848.5"/><circle class="c-af" cx="746.3" r="5.2"/><text class="acc" x="913" y="3.8">NC 064608.1</text><text class="sp" x="920" y="3.8">Anopheles moucheti</text></g>
<g id="tip81" transform="translate(0 1316.6)"><path class="ld" d="M755.5 0H848.5"/><circle class="c-af" cx="750" r="5.2"/><text class="acc" x="913" y="3.8">NC 064607.1</text><text class="sp" x="920" y="3.8">Anopheles marshallii</text></g>
<g id="tip82" transform="translate(0 1331.2)"><path class="ld" d="M724.3 0H848.5"/><circle class="c-as" cx="718.8" r="5.2"/><text class="acc" x="913" y="3.8">NC 028216.1</text><text class="sp" x="920" y="3.8">Anopheles culicifacies<tspan class="rd" dx="5">•</tspan></text></g>
<g id="tip83" transform="translate(0 1345.7)"><path class="ld" d="M692 0H853.3"/><circle class="c-as" cx="686.5" r="5.2"/><text class="acc" x="913" y="3.8">KT895423.1</text><text class="sp" x="920" y="3.8">Anopheles minimus<tspan class="rd" dx="0.5">•</tspan></text></g>
<g id="tip84" transform="translate(0 1360.3)"><path class="ld" d="M732.5 0H848.5"/><circle class="c-as" cx="727" r="5.2"/><text class="acc" x="913" y="3.8">NC 039540.1</text><text class="sp" x="920" y="3.8">Anopheles aconitus<tspan class="rd" dx="3">•</tspan></text></g>
<g id="tip85" transform="translate(0 1374.8)"><path class="ld" d="M761.8 0H848.5"/><circle class="c-af" cx="756.3" r="5.2"/><text class="acc" x="913" y="3.8">NC 056265.1</text><text class="sp" x="920" y="3.8">Anopheles rivulorum</text></g>
<g id="tip86" transform="translate(0 1389.4)"><path class="ld" d="M710.9 0H848.5"/><circle class="c-af" cx="705.4" r="5.2"/><text class="acc" x="913" y="3.8">NC 064603.1</text><text class="sp" x="920" y="3.8">Anopheles funestus<tspan class="rd" dx="0.5">•</tspan></text></g>
<g id="tip87" transform="translate(0 1403.9)"><path class="ld" d="M712.8 0H848.5"/><circle class="c-af" cx="707.3" r="5.2"/><text class="acc" x="913" y="3.8">NC 056263.1</text><text class="sp" x="920" y="3.8">Anopheles longipalpis</text></g>
<g id="tip88" transform="translate(0 1418.5)"><path class="ld" d="M713.5 0H848.5"/><circle class="c-af" cx="708" r="5.2"/><text class="acc" x="913" y="3.8">NC 056262.1</text><text class="sp" x="920" y="3.8">Anopheles parensis</text></g>
<g id="tip89" transform="translate(0 1433)"><path class="ld" d="M712.1 0H848.5"/><circle class="c-af" cx="706.6" r="5.2"/><text class="acc" x="913" y="3.8">NC 056261.1</text><text class="sp" x="920" y="3.8">Anopheles vaneedeni</text></g>
</g>

<!-- highlight box around the gambiae complex -->
<rect id="gambiae-box" x="673" y="1163.5" width="365" height="72" fill="none" stroke="#b52a2a" stroke-width="2.2"/>

<!-- series strip -->
<g id="series">
<rect x="1115" y="275" width="3.5" height="18" fill="#48dcf5"/><text class="ser" x="1125" y="291" fill="#48dcf5">Argyritarsis</text>
<rect x="1115" y="363.9" width="3.5" height="43.6" fill="#48dcf5"/><text class="ser" x="1126" y="391" fill="#48dcf5">Argyritarsis</text>
<rect x="1115" y="407.5" width="3.5" height="14.6" fill="#8b3a3a"/><text class="ser" x="1126" y="421" fill="#8b3a3a">Oswaldoi</text>
<rect x="1115" y="422.1" width="3.5" height="29.1" fill="#48dcf5"/><text class="ser" x="1126" y="442" fill="#48dcf5">Argyritarsis</text>
<rect x="1115" y="451.2" width="3.5" height="116.3" fill="#1f4e99"/><text class="ser" x="1126" y="514" fill="#1f4e99">Albitarsis</text>
<rect x="1115" y="567.5" width="3.5" height="203.7" fill="#8b3a3a"/><text class="ser" x="1126" y="668" fill="#8b3a3a">Oswaldoi</text>
<rect x="1115" y="771.2" width="3.5" height="58.2" fill="#6a3d9a"/><text class="ser" x="1126" y="803" fill="#6a3d9a">Myzorhynchus</text>
<rect x="1115" y="829.4" width="3.5" height="101.8" fill="#e21ec8"/><text class="ser" x="1126" y="882" fill="#e21ec8">Anopheles</text>
<rect x="1115" y="931.2" width="3.5" height="87.3" fill="#40b0a0"/><text class="ser" x="1126" y="983" fill="#40b0a0">Arribalzagia</text>
<rect x="1115" y="1018.5" width="3.5" height="116.3" fill="#f5c21b"/><text class="ser" x="1126" y="1081" fill="#f5c21b">Neomyzomyia</text>
<rect x="1115" y="1134.8" width="3.5" height="101.8" fill="#5f9bd6"/><text class="ser" x="1126" y="1189" fill="#5f9bd6">Pyretophorus</text>
<rect x="1115" y="1236.6" width="3.5" height="58.2" fill="#6aa84f"/><text class="ser" x="1126" y="1273" fill="#6aa84f">Neocellia</text>
<rect x="1115" y="1294.8" width="3.5" height="145.5" fill="#e8873d"/><text class="ser" x="1126" y="1374" fill="#e8873d">Myzomyia</text>
</g>

<!-- section strip -->
<g id="section">
<rect x="1300" y="262.1" width="13" height="14.6" fill="#0000f0"/><text class="ser" x="1319" y="274" fill="#1414d8">Myzorhynchella</text>
<rect x="1300" y="276.7" width="13" height="14.5" fill="#00c8ff"/><text class="ser" x="1319" y="290" fill="#1ec0f0">Argyritarsis</text>
<rect x="1300" y="291.2" width="13" height="72.7" fill="#0000f0"/><text class="ser" x="1318" y="331" fill="#1414d8">Myzorhynchella</text>
<rect x="1300" y="363.9" width="13" height="43.6" fill="#00c8ff"/><text class="ser" x="1319" y="388" fill="#1ec0f0">Argyritarsis</text>
<rect x="1300" y="407.5" width="13" height="14.6" fill="#ffc800"/><text class="ser" x="1319" y="421" fill="#f5c000">Albimanus</text>
<rect x="1300" y="422.1" width="13" height="145.4" fill="#00c8ff"/><text class="ser" x="1319" y="505" fill="#1ec0f0">Argyritarsis</text>
<rect x="1300" y="567.5" width="13" height="203.7" fill="#ffc800"/><text class="ser" x="1323" y="676" fill="#f5c000">Albimanus</text>
<rect x="1300" y="771.2" width="13" height="58.2" fill="#ff0000"/><text class="ser" x="1323" y="803" fill="#e8141e">Laticorn</text>
<rect x="1300" y="829.4" width="13" height="14.5" fill="#66ff00"/><text class="ser" x="1320" y="843" fill="#66e61a">Angusticorn</text>
<rect x="1300" y="843.9" width="13" height="14.5" fill="#aa00c0"/><text class="ser" x="1320" y="857.5" fill="#a010c0" style="font-size:9.4px">Anopheles incertae sedis</text>
<rect x="1300" y="858.4" width="13" height="72.8" fill="#66ff00"/><text class="ser" x="1320" y="898" fill="#66e61a">Angusticorn</text>
<rect x="1300" y="931.2" width="13" height="58.2" fill="#ff0000"/><text class="ser" x="1323" y="974" fill="#e8141e">Laticorn</text>
<rect x="1300" y="989.4" width="13" height="29.1" fill="#aa00c0"/><text class="ser" x="1322" y="1010" fill="#a010c0">Anopheles incertae sedis</text>
</g>

</g>
</svg>
